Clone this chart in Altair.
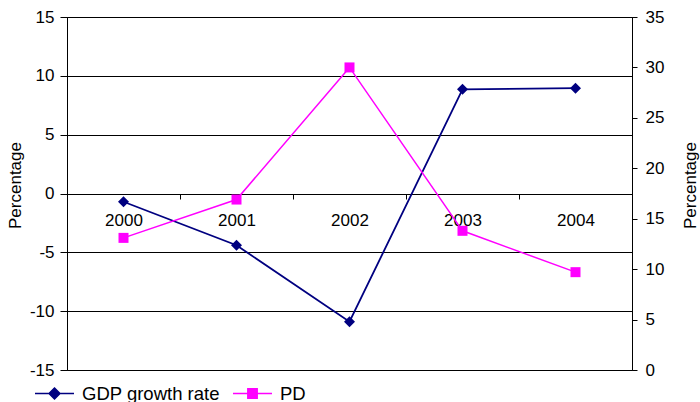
import altair as alt
import pandas as pd

years = ["2000", "2001", "2002", "2003", "2004"]
gdp = [-0.7, -4.4, -10.9, 8.85, 8.95]
pd_vals = [13.1, 16.9, 30.0, 13.8, 9.7]
series_names = ["GDP growth rate", "PD"]
colors = ["#000080", "#ff00ff"]
left_ticks = [-15, -10, -5, 0, 5, 10, 15]
right_ticks = [0, 5, 10, 15, 20, 25, 30, 35]

df = pd.DataFrame({
    "year": years * 2,
    "value": gdp + pd_vals,
    "series": [series_names[0]] * len(years) + [series_names[1]] * len(years),
})

FONT = "Liberation Sans"
FS = 17
LFS = 18.5

sym_gdp = "M-1,0L1,0M0,-0.28L0.28,0L0,0.28L-0.28,0Z"
sym_pd = "M-1,0L1,0M-0.24,-0.24L0.24,-0.24L0.24,0.24L-0.24,0.24Z"

legend = alt.Legend(
    title=None, orient="none", direction="horizontal",
    legendX=-33, legendY=356, symbolSize=1520, padding=0,
    labelFont=FONT, labelFontSize=LFS, labelColor="black",
    labelOffset=7, columnPadding=10,
    symbolType={"expr": f"datum.value === 'PD' ? '{sym_pd}' : '{sym_gdp}'"},
    symbolFillColor={"expr": "datum.value === 'PD' ? '#ff00ff' : '#000080'"},
    symbolStrokeColor={"expr": "datum.value === 'PD' ? '#ff00ff' : '#000080'"},
    symbolStrokeWidth=1.5, symbolOpacity=1,
)

xenc = alt.X(
    "year:N", title=None, sort=years,
    scale=alt.Scale(paddingInner=0, paddingOuter=0),
    axis=alt.Axis(orient="bottom", offset=-176, tickBand="extent", labelAngle=0,
                  domainColor="black", tickColor="black", tickSize=5,
                  labelPadding=13, labelFont=FONT, labelFontSize=FS,
                  labelColor="black", grid=False),
)

color = alt.Color("series:N", scale=alt.Scale(domain=series_names, range=colors), legend=legend)

left_y = alt.Y(
    "value:Q", title="Percentage",
    scale=alt.Scale(domain=[-15, 15], nice=False, zero=False),
    axis=alt.Axis(orient="left", values=left_ticks, grid=True, gridColor="black",
                  gridWidth=1, domainColor="black", tickColor="black", tickSize=7,
                  labelPadding=6, labelFont=FONT, labelFontSize=FS, labelColor="black",
                  labelExpr="datum.value + ''",
                  titleFont=FONT, titleFontSize=FS, titleFontWeight="normal",
                  titleColor="black", titleAngle=270, titleX=-52, titleY=168,
                  titleAlign="center", titleBaseline="middle"),
)

right_y = alt.Y(
    "value:Q", title="Percentage",
    scale=alt.Scale(domain=[0, 35], nice=False, zero=False),
    axis=alt.Axis(orient="right", values=right_ticks, grid=False,
                  domainColor="black", tickColor="black", tickSize=5,
                  labelPadding=8, labelFont=FONT, labelFontSize=FS, labelColor="black",
                  labelExpr="datum.value + ''",
                  titleFont=FONT, titleFontSize=FS, titleFontWeight="normal",
                  titleColor="black", titleAngle=270, titleX=58, titleY=168,
                  titleAlign="center", titleBaseline="middle"),
)

base = alt.Chart(df)
gdp_base = base.transform_filter(alt.datum.series == series_names[0])
pd_base = base.transform_filter(alt.datum.series == series_names[1])

gdp_line = gdp_base.mark_line(strokeWidth=1.8).encode(x=xenc, y=left_y, color=color)
gdp_pts = gdp_base.mark_point(shape="diamond", filled=True, size=121, opacity=1,
                              color=colors[0]).encode(x=xenc, y=left_y)
pd_line = pd_base.mark_line(strokeWidth=1.5).encode(x=xenc, y=right_y, color=color)
pd_pts = pd_base.mark_point(shape="square", filled=True, size=100, opacity=1,
                            color=colors[1]).encode(x=xenc, y=right_y)

left = alt.layer(gdp_line, gdp_pts)
right = alt.layer(pd_line, pd_pts)

chart = alt.layer(left, right).resolve_scale(y="independent").properties(
    width=565, height=353,
    padding={"left": 67, "top": 17, "right": 68, "bottom": 32},
    autosize="none",
    background="white",
).configure_view(stroke="black", strokeWidth=1)

chart.save("out.html", embed_options={"renderer": "svg", "actions": False})
